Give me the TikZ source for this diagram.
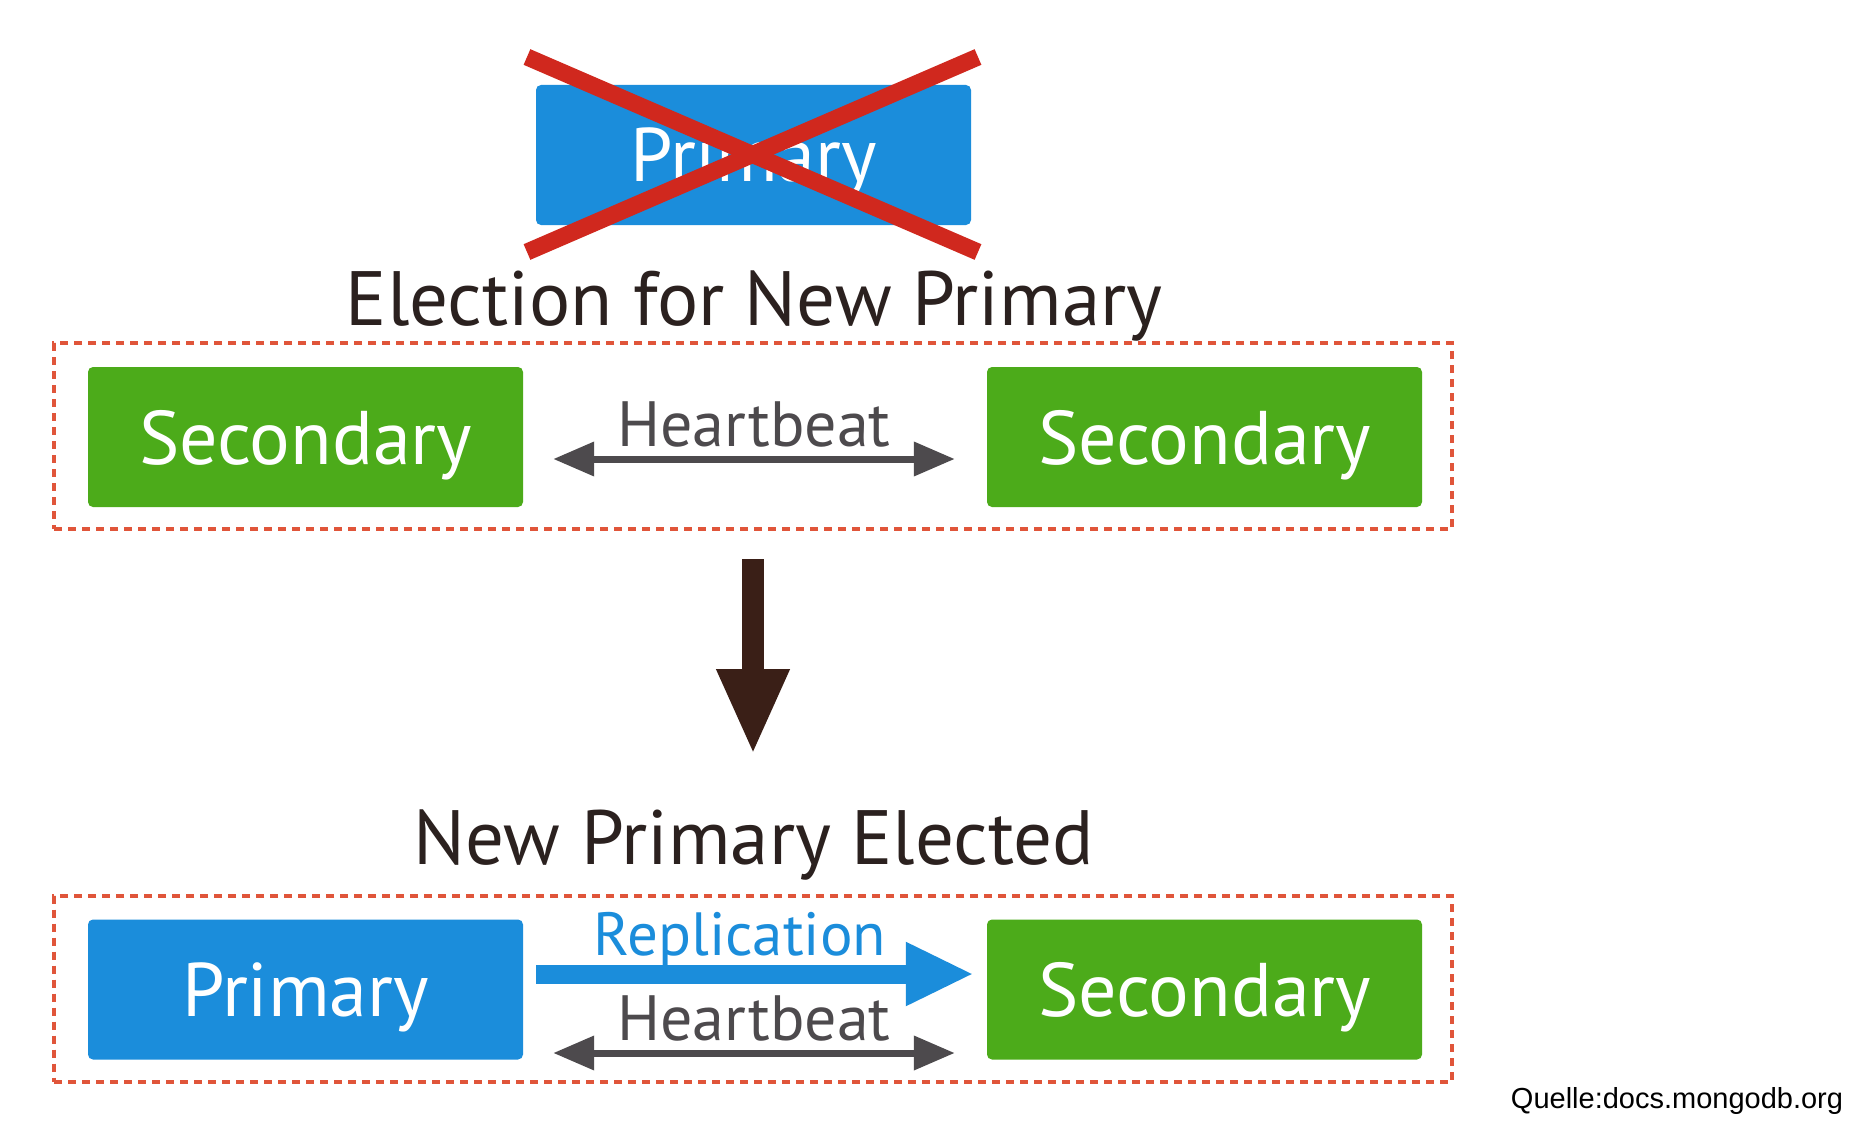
\documentclass[tikz,border=0pt]{standalone}
\usepackage{fontspec}
\setmainfont{PT Sans}
\newfontfamily\quellefont{Liberation Sans}
\usetikzlibrary{arrows.meta,calc}
\definecolor{mblue}{HTML}{1B8DDB}
\definecolor{mgreen}{HTML}{4CAB1A}
\definecolor{xred}{HTML}{D0281E}
\definecolor{dashred}{HTML}{E0553A}
\definecolor{hbgray}{HTML}{4D4A4D}
\definecolor{darktext}{HTML}{2B211F}
\definecolor{bigarrow}{HTML}{3A1F17}
\begin{document}
\begin{tikzpicture}[x=1pt,y=-1pt,
  member/.style={rounded corners=5pt, minimum width=435pt, minimum height=140pt, inner sep=0pt, text depth=0pt, text=white, font=\fontsize{76}{76}\selectfont},
  primbox/.style={member, fill=mblue},
  secbox/.style={member, fill=mgreen},
  group/.style={draw=dashred, line width=4pt, dash pattern=on 8pt off 6pt, minimum width=1398pt, minimum height=186pt, inner sep=0pt},
  title/.style={text=darktext, font=\fontsize{77}{77}\selectfont, inner sep=0pt, anchor=base},
  hblabel/.style={text=hbgray, font=\fontsize{64}{64}\selectfont, inner sep=0pt, anchor=base},
  hbarrow/.style={draw=hbgray, line width=7pt, {Triangle[length=41pt,width=33pt]}-{Triangle[length=41pt,width=33pt]}},
  reparrow/.style={draw=mblue, line width=19pt, -{Triangle[length=68pt,width=59pt]}},
  downarrow/.style={draw=bigarrow, line width=22pt, -{Triangle[length=86pt,width=67pt]}},
  crossline/.style={draw=xred, line width=17pt}
]
\useasboundingbox (0,0) rectangle (1856,1124);
\fill[white] (0,0) rectangle (1856,1124);

% failed primary
\node[primbox] (oldp) at (753.5,155) {Primary};
\coordinate (xa) at (527,57);
\coordinate (xb) at (978,252);
\coordinate (xc) at (527,252);
\coordinate (xd) at (978,57);
\draw[crossline] (xa) -- (xb);
\draw[crossline] (xc) -- (xd);

% election stage
\node[title] (t1) at (754,325) {Election for New Primary};
\node[group] (g1) at (753,436) {};
\node[secbox] (s1) at (305.5,437) {Secondary};
\node[secbox] (s2) at (1204.5,437) {Secondary};
\node[hblabel] (h1) at (754,446) {Heartbeat};
\draw[hbarrow, shorten <=30pt, shorten >=32pt] ($(s1.east)+(0,22)$) -- ($(s2.west)+(0,22)$);

% transition
\coordinate (da) at (753,559);
\coordinate (db) at (753,755);
\draw[downarrow] (da) -- (db);

% elected stage
\node[title] (t2) at (754,864) {New Primary Elected};
\node[group] (g2) at (753,988.5) {};
\node[primbox] (p1) at (305.5,989.5) {Primary};
\node[secbox] (s3) at (1204.5,989.5) {Secondary};
\node[text=mblue, font=\fontsize{61}{61}\selectfont, inner sep=0pt, anchor=base] (r1) at (740,955) {Replication};
\draw[reparrow, shorten <=13pt, shorten >=13pt] ($(p1.east)+(0,-15.5)$) -- ($(s3.west)+(0,-15.5)$);
\node[hblabel] (h2) at (754,1040) {Heartbeat};
\draw[hbarrow, shorten <=30pt, shorten >=32pt] ($(p1.east)+(0,63.5)$) -- ($(s3.west)+(0,63.5)$);

% source
\node[font=\quellefont\fontsize{29}{29}\selectfont, text=black, inner sep=0pt] (src) at (1677,1101) {Quelle:docs.mongodb.org};
\end{tikzpicture}
\end{document}
